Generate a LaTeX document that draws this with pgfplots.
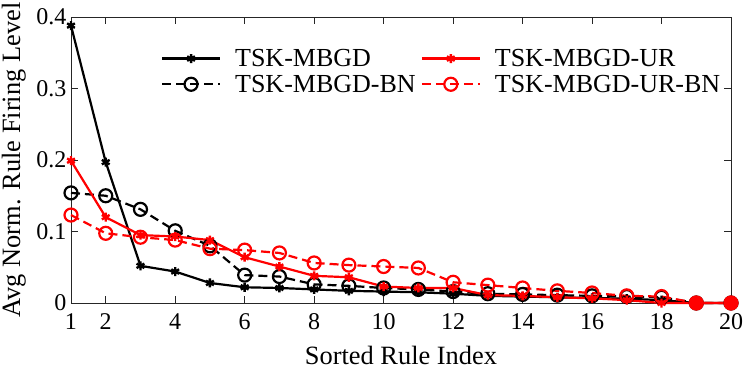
\documentclass[border=0pt]{standalone}
\usepackage{pgfplots}
\pgfplotsset{compat=1.18}
\usepackage{fontspec}
\setmainfont{Liberation Serif}
\pgfplotstableread{
x mbgd bn ur urbn
1 0.388 0.154 0.199 0.123
2 0.197 0.150 0.120 0.0975
3 0.052 0.131 0.095 0.092
4 0.044 0.101 0.093 0.088
5 0.028 0.080 0.088 0.076
6 0.022 0.039 0.064 0.074
7 0.021 0.037 0.051 0.070
8 0.019 0.026 0.038 0.056
9 0.017 0.024 0.036 0.053
10 0.016 0.021 0.023 0.051
11 0.015 0.019 0.021 0.049
12 0.013 0.016 0.021 0.029
13 0.010 0.013 0.011 0.025
14 0.009 0.012 0.010 0.021
15 0.008 0.011 0.008 0.017
16 0.007 0.010 0.0065 0.014
17 0.006 0.009 0.004 0.010
18 0.004 0.008 0.000 0.009
19 0 0 0 0
20 0 0 0 0
}\datatable
\begin{document}
\begin{tikzpicture}
\path[use as bounding box] (-71bp,-66bp) rectangle (676bp,303bp);
\begin{axis}[
  at={(0,0)}, anchor=south west,
  scale only axis, width=660bp, height=286bp,
  xmin=1, xmax=20, ymin=0, ymax=0.4,
  xtick={1,2,4,6,8,10,12,14,16,18,20},
  ytick={0,0.1,0.2,0.3,0.4},
  yticklabels={0,0.1,0.2,0.3,0.4},
  tick align=inside,
  major tick length=7bp,
  tick style={black!85, line width=0.6bp},
  axis line style={black!85, line width=0.8bp},
  clip=false,
  /pgf/number format/assume math mode=true,
  tick label style={font=\fontsize{24bp}{28bp}\selectfont},
  xticklabel style={yshift=-7bp},
  yticklabel style={xshift=-1bp},
  xlabel={\fontsize{26.4bp}{30bp}\selectfont Sorted Rule Index},
  ylabel={\fontsize{26.4bp}{30bp}\selectfont Avg Norm. Rule Firing Level},
  xlabel style={at={(axis description cs:0.5,-0.214)}, anchor=base},
  ylabel style={at={(axis description cs:-0.077,0.5)}, anchor=base},
  legend columns=2, transpose legend,
  legend cell align=left,
  legend image code/.code={\draw[mark repeat=2,mark phase=2] plot coordinates {(0bp,0bp)(29bp,0bp)(58bp,0bp)};},
  legend style={draw=none, fill=none, at={(rel axis cs:0.136,0.895)}, anchor=north west, inner sep=0pt,
    font=\fontsize{26bp}{30bp}\selectfont, column sep=12bp, row sep=3bp,
    /tikz/every even column/.append style={column sep=3bp}},
]
\addplot[black, line width=2.2bp, mark=asterisk, mark size=4.5bp, mark options={line width=2.4bp, solid}] table[x=x,y=mbgd]{\datatable};
\addlegendentry{TSK-MBGD}
\addplot[black, line width=2.2bp, dash pattern=on 9bp off 5bp, mark=o, mark size=6.5bp, mark options={line width=2.2bp, solid}] table[x=x,y=bn]{\datatable};
\addlegendentry{TSK-MBGD-BN}
\addplot[red, line width=2.2bp, mark=asterisk, mark size=4.5bp, mark options={line width=2.4bp, solid}] table[x=x,y=ur]{\datatable};
\addlegendentry{TSK-MBGD-UR}
\addplot[red, line width=2.2bp, dash pattern=on 9bp off 5bp, mark=o, mark size=6.5bp, mark options={line width=2.2bp, solid}] table[x=x,y=urbn]{\datatable};
\addlegendentry{TSK-MBGD-UR-BN}
\addplot[red, only marks, mark=*, mark size=7bp, forget plot] coordinates {(19,0) (20,0)};
\end{axis}
\end{tikzpicture}
\end{document}
